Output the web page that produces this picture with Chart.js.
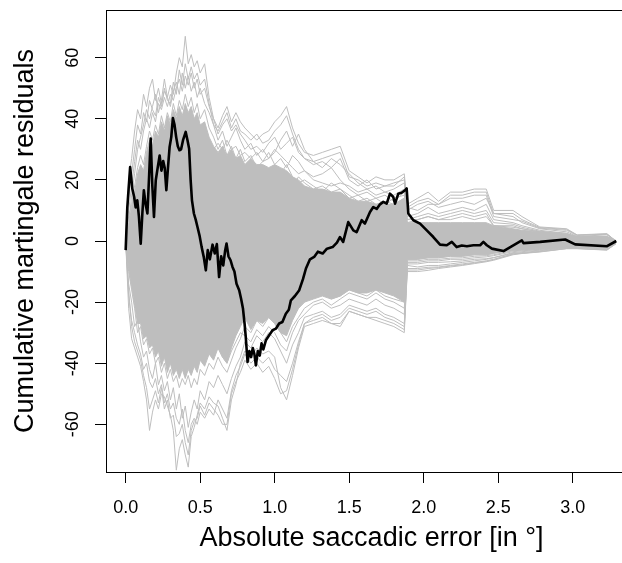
<!DOCTYPE html>
<html><head><meta charset="utf-8">
<script src="https://cdn.jsdelivr.net/npm/chart.js@4/dist/chart.umd.min.js"></script>
<style>
html,body{margin:0;padding:0;overflow:hidden;background:#fff;width:622px;height:563px}
canvas{display:block}
</style></head>
<body>
<canvas id="c" width="660" height="563" style="width:660px;height:563px"></canvas>
<script>
// ---- Axis text ----
const xTitle = 'Absolute saccadic error [in °]';
const yTitle = 'Cumulative martingale residuals';
const xTicks = [0, 0.5, 1.0, 1.5, 2.0, 2.5, 3.0];
const xTickLabels = ['0.0', '0.5', '1.0', '1.5', '2.0', '2.5', '3.0'];
const yTicks = [-60, -40, -20, 0, 20, 40, 60];
const yTickLabels = ['-60', '-40', '-20', '0', '20', '40', '60'];

// ---- Observed cumulative residual path (black) ----
const obsX = [
  0, 0.011, 0.030, 0.045, 0.057, 0.067, 0.078, 0.089, 0.101, 0.112,
  0.122, 0.134, 0.146, 0.158, 0.168, 0.179, 0.190, 0.202, 0.215, 0.228,
  0.240, 0.252, 0.262, 0.273, 0.284, 0.295, 0.306, 0.317, 0.328, 0.339,
  0.350, 0.361, 0.372, 0.385, 0.403, 0.415, 0.426, 0.436, 0.445, 0.458,
  0.470, 0.482, 0.497, 0.510, 0.524, 0.538, 0.551, 0.565, 0.583, 0.598,
  0.612, 0.627, 0.641, 0.655, 0.668, 0.677, 0.690, 0.704, 0.717, 0.730,
  0.744, 0.762, 0.775, 0.787, 0.798, 0.806, 0.818, 0.830, 0.842, 0.853,
  0.864, 0.874, 0.887, 0.900, 0.912, 0.924, 0.941, 0.961, 0.986, 1.008,
  1.030, 1.052, 1.075, 1.095, 1.109, 1.136, 1.165, 1.190, 1.210, 1.237,
  1.265, 1.290, 1.322, 1.351, 1.389, 1.418, 1.438, 1.460, 1.494, 1.528,
  1.550, 1.584, 1.606, 1.640, 1.662, 1.685, 1.707, 1.729, 1.752, 1.774,
  1.796, 1.808, 1.830, 1.852, 1.875, 1.886, 1.897, 1.931, 1.976, 2.021,
  2.065, 2.110, 2.155, 2.189, 2.222, 2.256, 2.290, 2.334, 2.379, 2.401,
  2.424, 2.458, 2.536, 2.659, 2.670, 2.782, 2.950, 3.017, 3.231, 3.293
];
const obsY = [
  -3, 11, 24.2, 17, 14.4, 11, 13.3, 8, -0.9, 9,
  16.6, 12, 9, 22, 33.5, 18, 7.9, 19.9, 24, 28,
  23, 26.2, 24, 16.6, 24, 30.8, 34, 40.2, 38, 34,
  31, 29.7, 30, 33, 35.7, 33, 30.2, 20, 13.3, 9,
  7, 4.6, 1.5, -2, -5.2, -9.6, -3, -6, -1.2, -4.1,
  -1, -11.8, -5, -8, -3, -0.8, -5, -6.3, -8.5, -10,
  -14, -16.1, -19, -22, -27, -31.4, -39.6, -36, -38, -35,
  -37, -40.7, -36, -37.5, -33.5, -35.5, -32.5, -31, -29.2, -28.7,
  -27, -26.5, -23.8, -22.5, -19.4, -18, -16.1, -12.5, -9, -6,
  -5.2, -3.5, -4.1, -2.5, -2, -0.5, 1.3, -0.3, 6.2, 3.5,
  2.9, 6.8, 5.7, 9.5, 11.1, 10.5, 12, 12.8, 12.2, 15.5,
  14.4, 12.2, 15.5, 15.8, 16.6, 17.2, 9, 6.8, 5.7, 3.5,
  1.3, -1.2, -1.4, -0.3, -2, -1.5, -1.7, -1.4, -1.4, -0.3,
  -1.4, -2.5, -3.3, 0.2, -0.7, -0.3, 0.5, -1.1, -1.7, 0
];

// ---- Simulated paths (gray), shared x grid ----
const grayX = [
  0, 0.02, 0.04, 0.06, 0.08, 0.10, 0.12, 0.14, 0.16, 0.18, 0.20, 0.22, 0.24, 0.26, 0.28, 0.30, 0.32, 0.34, 0.36, 0.38, 0.40, 0.42, 0.44, 0.46, 0.48, 0.50,
  0.53, 0.56, 0.59, 0.62, 0.65, 0.68, 0.71, 0.74, 0.77, 0.80,
  0.84, 0.88, 0.92, 0.96, 1.00, 1.04, 1.08, 1.12, 1.16, 1.20,
  1.26, 1.32, 1.38, 1.44, 1.50, 1.56, 1.62, 1.68, 1.74, 1.80,
  1.87, 1.89, 1.96, 2.03, 2.10, 2.18, 2.26, 2.34, 2.42, 2.47, 2.60, 2.66, 2.78, 2.96, 3.03, 3.23, 3.29
];
// dense core of the simulated paths (upper / lower edge)
const coreHi = [
  0, 5, 11, 16, 22, 25, 23, 29, 33, 31, 36, 34, 39, 36, 41, 38, 43, 40, 44, 41, 45, 42, 44, 40, 42, 38,
  39, 34, 31, 29, 31, 28, 30, 27, 28, 25,
  27, 25, 25, 24, 25, 24, 23, 21, 20, 18,
  17, 17, 16, 16, 14, 13, 13, 12, 12, 12,
  14, 6, 6, 6, 6, 6, 6, 6, 6, 5, 4, 3.5, 3, 2.2, 1.5, 1.5, 0
];
const coreLo = [
  0, -9, -15, -21, -27, -27, -32, -31, -35, -34, -38, -36, -41, -38, -43, -40, -44, -42, -45, -42, -45, -42, -44, -41, -43, -39,
  -41, -37, -39, -35, -38, -40, -35, -31, -28, -25,
  -29, -26, -27, -25, -27, -30, -31, -26, -22, -20,
  -19, -18, -19, -18, -16, -17, -17, -16, -17, -18,
  -20, -6, -6, -5.5, -5.5, -5, -5, -4.5, -4.5, -4, -3, -2.8, -2.5, -2, -1.8, -1.8, -0.6
];
const up1 = [
  0, 20, 27, 36, 43, 40, 48, 44, 50, 53, 46, 50, 45, 49, 47, 51, 48, 55, 60, 57, 67, 58, 61, 57, 59, 55,
  58, 47, 40, 37, 41, 44, 39, 42, 39, 37,
  35, 33, 35, 36, 39, 41, 44, 37, 32, 29,
  28, 29, 30, 31, 23, 21, 19, 21, 20, 20,
  22, 12, 14, 16, 13, 16, 16, 17, 17, 10, 10, 8, 4.6, 4, 2, 2.4, 0
];
const up2 = [
  0, 5, 15, 22, 30, 34, 38, 43, 40, 44, 48, 42, 46, 53, 47, 44, 49, 52, 48, 55, 50, 54, 49, 52, 47, 50,
  45, 42, 38, 33, 36, 31, 34, 37, 33, 30,
  32, 28, 30, 27, 29, 33, 36, 31, 35, 30,
  26, 24, 27, 25, 22, 19, 17, 18, 16, 17,
  19, 10, 12, 13, 11, 12, 13, 12, 14, 9, 8, 6, 4, 3, 1.5, 2, 0
];
const up3 = [
  0, 8, 12, 18, 24, 28, 25, 31, 36, 33, 38, 35, 41, 37, 42, 39, 45, 41, 46, 43, 48, 44, 47, 42, 45, 40,
  43, 37, 34, 30, 33, 28, 31, 27, 30, 26,
  28, 24, 26, 29, 25, 27, 24, 28, 26, 23,
  21, 22, 24, 20, 17, 15, 16, 14, 15, 13,
  16, 8, 9, 11, 9, 10, 11, 10, 12, 7, 6, 5, 3.5, 2.5, 1.2, 1.5, 0
];
const up4 = [
  0, 3, 10, 14, 19, 22, 20, 26, 29, 27, 32, 30, 34, 31, 36, 33, 38, 35, 40, 37, 41, 38, 40, 36, 38, 34,
  36, 31, 29, 26, 28, 24, 27, 23, 25, 22,
  24, 20, 22, 19, 21, 23, 20, 18, 21, 19,
  17, 18, 16, 17, 15, 13, 14, 12, 13, 12,
  14, 6, 7, 8, 7, 8, 9, 8, 9, 5, 5, 4, 3, 2, 1, 1.2, 0
];
const up5 = [
  0, 10, 18, 26, 33, 30, 36, 40, 37, 42, 39, 45, 43, 47, 44, 48, 46, 50, 53, 49, 54, 51, 55, 50, 53, 48,
  50, 44, 40, 35, 38, 40, 36, 38, 35, 33,
  30, 31, 29, 32, 34, 30, 32, 34, 29, 27,
  25, 26, 24, 27, 20, 18, 20, 17, 18, 19,
  20, 11, 10, 12, 12, 14, 14, 15, 15, 8, 7, 6.5, 4.2, 3.5, 1.8, 2.2, 0
];
const up6 = [
  0, 14, 22, 30, 38, 35, 42, 39, 46, 43, 41, 47, 44, 50, 46, 45, 52, 48, 56, 51, 58, 53, 57, 53, 55, 51,
  53, 45, 38, 36, 39, 42, 37, 40, 36, 35,
  33, 35, 32, 33, 36, 38, 41, 35, 30, 27,
  26, 27, 28, 29, 21, 20, 18, 19, 18, 18,
  21, 11, 13, 14, 12, 15, 15, 16, 16, 9, 9, 7, 4.4, 3.8, 1.9, 2.3, 0
];
const mid1 = [
  0, 4, 9, 12, 17, 21, 19, 24, 27, 25, 29, 28, 31, 29, 33, 31, 35, 33, 36, 34, 36, 34, 35, 32, 33, 30,
  31, 28, 30, 32, 30, 33, 30, 31, 28, 29,
  27, 29, 26, 27, 30, 28, 26, 24, 22, 23,
  20, 19, 18, 19, 18, 16, 17, 15, 16, 15,
  17, 7, 8, 9, 8, 9, 10, 9, 10, 6, 5.5, 4.5, 3.2, 2.5, 1.3, 1.3, 0
];
const mid2 = [
  0, 2, 6, 10, 14, 16, 15, 19, 22, 20, 24, 23, 26, 24, 28, 26, 30, 28, 31, 29, 31, 29, 30, 27, 28, 26,
  27, 24, 26, 22, 25, 27, 23, 25, 21, 24,
  22, 24, 21, 22, 24, 22, 25, 21, 19, 20,
  18, 16, 19, 17, 14, 15, 13, 14, 12, 14,
  15, 7, 7, 8, 7, 7, 8, 7, 8, 5, 4.5, 4, 3, 2.2, 1.2, 1.3, 0
];
const mid3 = [
  0, -5, -10, -14, -19, -22, -25, -24, -28, -27, -31, -30, -34, -32, -36, -34, -38, -36, -38, -36, -39, -36, -38, -35, -37, -34,
  -35, -37, -33, -35, -38, -40, -36, -33, -30, -31,
  -33, -29, -31, -28, -30, -34, -36, -30, -26, -24,
  -21, -20, -22, -21, -19, -20, -21, -19, -21, -22,
  -24, -7.5, -7.5, -7, -7, -6.8, -6.5, -6, -5.8, -5.4, -3.8, -3.5, -3, -2.1, -2.1, -2.4, -0.7
];
const mid4 = [
  0, -4, -8, -12, -16, -19, -22, -21, -25, -24, -28, -27, -31, -29, -33, -31, -35, -33, -35, -33, -36, -33, -35, -32, -34, -31,
  -32, -30, -31, -28, -30, -32, -28, -26, -27, -25,
  -27, -24, -26, -23, -25, -27, -29, -25, -22, -20,
  -18, -17, -19, -18, -16, -17, -18, -16, -18, -19,
  -20, -6.5, -6.5, -6, -6, -5.6, -5.5, -5, -4.8, -4.5, -3.2, -3, -2.7, -1.9, -1.9, -2, -0.6
];
const lo1 = [
  0, -22, -32, -35, -38, -41, -46, -52, -62, -56, -52, -55, -50, -51, -54, -57, -62, -75, -68, -65, -70, -74, -64, -61, -57, -53,
  -55, -51, -53, -54, -58, -62, -52, -47, -40, -36,
  -38, -35, -37, -36, -38, -48, -52, -44, -35, -28,
  -27, -26, -27, -28, -23, -24, -25, -26, -27, -28,
  -30, -10, -10, -9.6, -9, -8.5, -8, -7.4, -6.8, -6.3, -4.5, -4.1, -3.6, -2.5, -2.5, -3, -0.9
];
const lo2 = [
  0, -14, -20, -28, -26, -33, -38, -36, -42, -45, -40, -47, -44, -49, -46, -52, -48, -55, -50, -58, -54, -61, -56, -52, -55, -49,
  -52, -46, -48, -44, -47, -50, -45, -41, -38, -33,
  -35, -31, -33, -30, -32, -36, -40, -34, -30, -25,
  -24, -23, -25, -24, -21, -22, -23, -22, -24, -25,
  -27, -8, -8.5, -8, -8, -7.5, -7, -6.5, -6, -5.5, -4, -3.8, -3.2, -2.2, -2.2, -2.6, -0.8
];
const lo3 = [
  0, -10, -16, -22, -30, -28, -34, -32, -37, -35, -40, -38, -43, -40, -45, -42, -46, -44, -48, -45, -47, -44, -48, -45, -47, -42,
  -44, -40, -42, -38, -41, -43, -39, -35, -32, -28,
  -30, -26, -28, -25, -27, -30, -33, -28, -25, -22,
  -20, -19, -21, -19, -17, -18, -19, -17, -19, -20,
  -22, -7, -7, -6.5, -6.5, -6, -6, -5.5, -5.2, -4.8, -3.5, -3.2, -2.8, -2, -2, -2.2, -0.7
];
const lo4 = [
  0, -7, -13, -18, -23, -21, -27, -25, -30, -28, -33, -31, -36, -34, -38, -36, -40, -37, -39, -36, -40, -37, -39, -36, -38, -35,
  -37, -33, -35, -31, -34, -36, -32, -29, -26, -23,
  -25, -21, -23, -20, -22, -24, -26, -22, -20, -18,
  -16, -15, -17, -15, -14, -15, -16, -14, -15, -16,
  -18, -6, -6, -5.5, -5.5, -5, -5, -4.5, -4.5, -4, -3, -2.8, -2.5, -1.8, -1.8, -1.9, -0.6
];
const lo5 = [
  0, -18, -26, -30, -34, -37, -42, -40, -46, -48, -45, -50, -47, -53, -50, -55, -53, -58, -60, -55, -62, -66, -60, -58, -60, -56,
  -58, -55, -57, -52, -55, -58, -49, -44, -41, -37,
  -40, -38, -40, -38, -42, -44, -46, -40, -33, -27,
  -25, -24, -26, -25, -22, -23, -24, -23, -25, -26,
  -28, -9, -9, -8.6, -8.5, -8, -7.5, -7, -6.5, -6, -4.2, -4, -3.4, -2.4, -2.4, -2.8, -0.9
];
const lo6 = [
  0, -16, -28, -33, -36, -39, -44, -48, -55, -52, -49, -53, -48, -55, -52, -58, -57, -64, -63, -60, -66, -70, -62, -59, -58, -54,
  -57, -53, -55, -57, -60, -60, -50, -46, -43, -39,
  -42, -40, -43, -41, -45, -50, -49, -42, -34, -27,
  -26, -25, -27, -27, -23, -24, -25, -25, -26, -27,
  -29, -9.5, -9.5, -9, -8.7, -8.2, -7.8, -7.2, -6.6, -6.1, -4.3, -4, -3.5, -2.5, -2.5, -2.9, -0.9
];

// ---- Build datasets ----
const GRAY = '#BEBEBE';
const FONT = '"Liberation Sans", Arial, Helvetica, sans-serif';
const toPts = (xs, ys) => xs.map((x, i) => ({ x: x, y: ys[i] }));
const grayLine = (ys) => ({
  data: toPts(grayX, ys), borderColor: GRAY, borderWidth: 1, fill: false, order: 1
});

const datasets = [
  { data: toPts(obsX, obsY), borderColor: '#000', borderWidth: 2.6, fill: false, order: 0 },
  { data: toPts(grayX, coreHi), borderColor: GRAY, borderWidth: 1, fill: false, order: 2 },
  { data: toPts(grayX, coreLo), borderColor: GRAY, borderWidth: 1, fill: '-1', backgroundColor: GRAY, order: 2 },
  grayLine(up1), grayLine(up2), grayLine(up3), grayLine(up4), grayLine(up5), grayLine(up6),
  grayLine(mid1), grayLine(mid2), grayLine(mid3), grayLine(mid4),
  grayLine(lo1), grayLine(lo2), grayLine(lo3), grayLine(lo4), grayLine(lo5), grayLine(lo6)
];

new Chart(document.getElementById('c').getContext('2d'), {
  type: 'line',
  data: { datasets: datasets },
  options: {
    responsive: false,
    animation: false,
    devicePixelRatio: 1,
    layout: { padding: { top: 10, right: 23, bottom: 0, left: 0 } },
    plugins: { legend: { display: false }, tooltip: { enabled: false } },
    elements: { point: { radius: 0 }, line: { tension: 0, borderJoinStyle: 'round' } },
    scales: {
      x: {
        type: 'linear', position: 'bottom', min: -0.132, max: 3.432,
        afterBuildTicks: s => { s.ticks = xTicks.map(v => ({ value: v })); },
        afterFit: s => { s.height = 91; s.paddingLeft = 0; s.paddingRight = 0; },
        grid: { display: true, drawOnChartArea: false, drawTicks: true, tickLength: 11, color: '#000', lineWidth: 1 },
        border: { display: true, color: '#000', width: 1 },
        ticks: {
          autoSkip: false, maxRotation: 0, minRotation: 0, padding: 14, color: '#000',
          font: { family: FONT, size: 18 },
          callback: (v, i) => xTickLabels[i]
        },
        title: { display: true, text: xTitle, color: '#000', font: { family: FONT, size: 27 }, padding: { top: 0, bottom: 8.5 } }
      },
      xTop: {
        type: 'linear', position: 'top', min: -0.132, max: 3.432,
        afterFit: s => { s.height = 0; s.paddingLeft = 0; s.paddingRight = 0; },
        grid: { display: true, drawOnChartArea: false, drawTicks: false },
        border: { display: true, color: '#000', width: 1 },
        ticks: { display: false }
      },
      y: {
        type: 'linear', position: 'left', min: -75.6, max: 75.6,
        afterBuildTicks: s => { s.ticks = yTicks.map(v => ({ value: v })); },
        afterFit: s => { s.width = 106; s.paddingTop = 0; s.paddingBottom = 0; },
        grid: { display: true, drawOnChartArea: false, drawTicks: true, tickLength: 11, color: '#000', lineWidth: 1 },
        border: { display: true, color: '#000', width: 1 },
        ticks: {
          autoSkip: false, minRotation: 90, maxRotation: 90, crossAlign: 'center', padding: 9, color: '#000',
          font: { family: FONT, size: 18 },
          callback: (v, i) => yTickLabels[i]
        },
        title: { display: true, text: yTitle, color: '#000', font: { family: FONT, size: 27 }, padding: { top: 9.4, bottom: 0 } }
      }
    }
  }
});
</script>
</body></html>
